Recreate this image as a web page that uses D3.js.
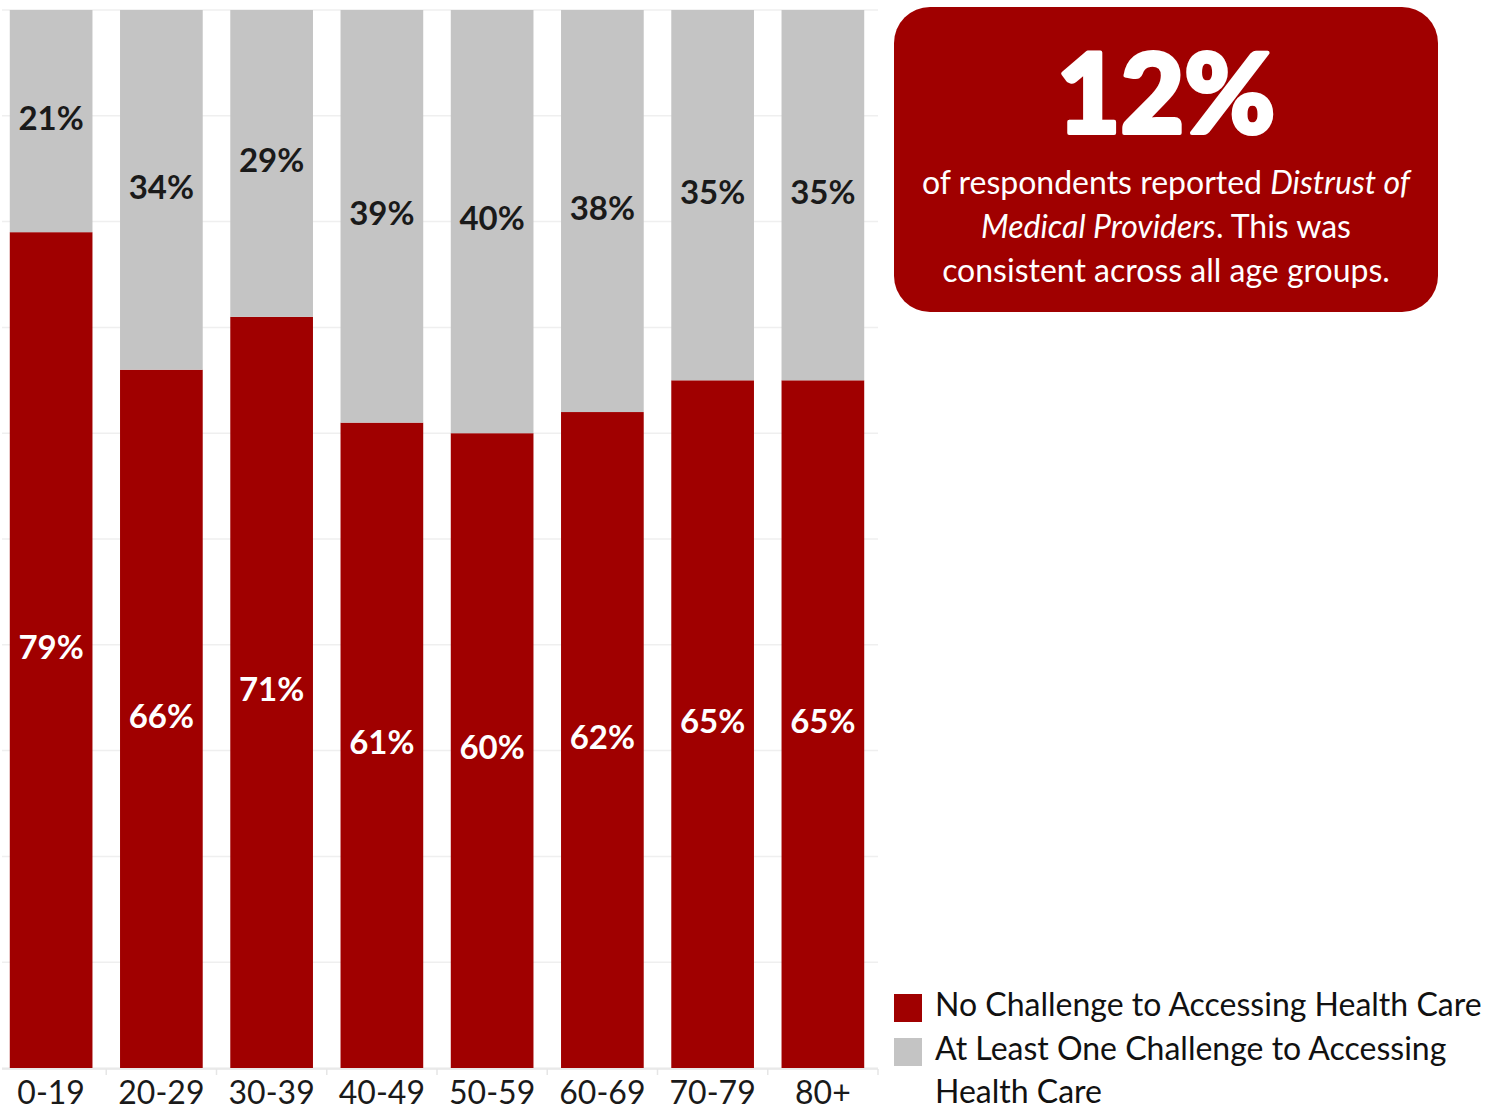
<!DOCTYPE html>
<html>
<head>
<meta charset="utf-8">
<script src="https://cdn.jsdelivr.net/npm/d3@7"></script>
<style>
  html, body { margin: 0; padding: 0; background: #fff; }
  svg { display: block; font-family: Lato, "Open Sans", sans-serif; }
</style>
</head>
<body>
<svg id="chart" width="1500" height="1111"></svg>
<script>
// Age groups and share of respondents (percent)
const ageGroups = ["0-19", "20-29", "30-39", "40-49", "50-59", "60-69", "70-79", "80+"];
const noChallenge = [79, 66, 71, 61, 60, 62, 65, 65];
const atLeastOne = [21, 34, 29, 39, 40, 38, 35, 35];
const gridTicks = [0, 10, 20, 30, 40, 50, 60, 70, 80, 90, 100];
const seriesNames = ["No Challenge to Accessing Health Care", "At Least One Challenge to Accessing Health Care"];

const RED = "#a00000";
const GRAY = "#c4c4c4";

const svg = d3.select("#chart");

const x = d3.scaleBand().domain(ageGroups).range([-4, 878]).paddingInner(0.25).paddingOuter(0.125);
const y = d3.scaleLinear().domain([0, 100]).range([1068, 10]);

// gridlines
svg.append("g")
  .selectAll("line")
  .data(gridTicks)
  .join("line")
  .attr("x1", 2).attr("x2", 878)
  .attr("y1", d => y(d)).attr("y2", d => y(d))
  .attr("stroke", "#efefef").attr("stroke-width", 1.5);

const rows = ageGroups.map((g, i) => ({ group: g, no: noChallenge[i], some: atLeastOne[i] }));
const stack = d3.stack().keys(["no", "some"])(rows);
const colors = { no: RED, some: GRAY };

const layers = svg.append("g")
  .selectAll("g")
  .data(stack)
  .join("g")
  .attr("fill", d => colors[d.key]);

layers.selectAll("rect")
  .data(d => d)
  .join("rect")
  .attr("x", d => x(d.data.group))
  .attr("width", x.bandwidth())
  .attr("y", d => y(d[1]))
  .attr("height", d => y(d[0]) - y(d[1]));

// value labels centered in each segment
layers.each(function(layer) {
  d3.select(this).selectAll("text")
    .data(layer)
    .join("text")
    .attr("x", d => x(d.data.group) + x.bandwidth() / 2)
    .attr("y", d => (y(d[0]) + y(d[1])) / 2 - 3)
    .attr("dy", "0.36em")
    .attr("text-anchor", "middle")
    .attr("font-size", 33)
    .attr("font-weight", 700)
    .attr("fill", layer.key === "no" ? "#ffffff" : "#1a1a1a")
    .text(d => (d[1] - d[0]) + "%");
});

// x axis
const xAxis = d3.axisBottom(x).tickSize(0).tickPadding(0);
const axisG = svg.append("g").attr("transform", "translate(0,1069)");
axisG.append("line")
  .attr("x1", 2).attr("x2", 878).attr("y1", 0).attr("y2", 0)
  .attr("stroke", "#e6e6e6").attr("stroke-width", 1.5);
// small separators at the right edge of each band
axisG.selectAll("line.sep")
  .data(ageGroups)
  .join("line")
  .attr("class", "sep")
  .attr("x1", d => x(d) + x.bandwidth() + x.step() * 0.125)
  .attr("x2", d => x(d) + x.bandwidth() + x.step() * 0.125)
  .attr("y1", 0).attr("y2", 6)
  .attr("stroke", "#e6e6e6").attr("stroke-width", 1.5);
axisG.append("g").call(xAxis)
  .call(g => g.select(".domain").remove())
  .selectAll("text")
  .attr("y", 35)
  .attr("dy", 0)
  .attr("font-family", "Lato, sans-serif")
  .attr("font-size", 32)
  .attr("fill", "#1a1a1a");

// callout box
const box = svg.append("g");
box.append("rect")
  .attr("x", 894).attr("y", 7).attr("width", 544).attr("height", 305)
  .attr("rx", 36).attr("ry", 36)
  .attr("fill", RED);
box.append("text")
  .attr("x", 1166).attr("y", 133)
  .attr("text-anchor", "middle")
  .attr("font-size", 110).attr("font-weight", 900)
  .attr("fill", "#ffffff")
  .attr("stroke", "#ffffff").attr("stroke-width", 4).attr("stroke-linejoin", "round")
  .text("12%");
const bodyLines = [
  [{ t: "of respondents reported " }, { t: "Distrust of", i: true }],
  [{ t: "Medical Providers", i: true }, { t: ". This was" }],
  [{ t: "consistent across all age groups." }]
];
bodyLines.forEach((line, k) => {
  const t = box.append("text")
    .attr("x", 1166).attr("y", 194 + k * 44)
    .attr("text-anchor", "middle")
    .attr("font-size", 32)
    .attr("fill", "#ffffff");
  line.forEach(s => t.append("tspan").attr("font-style", s.i ? "italic" : "normal").text(s.t));
});

// legend
const legend = svg.append("g").attr("transform", "translate(894,994)");
const legendItems = [
  { color: RED, lines: [seriesNames[0]] },
  { color: GRAY, lines: ["At Least One Challenge to Accessing", "Health Care"] }
];
legendItems.forEach((it, i) => {
  const g = legend.append("g").attr("transform", `translate(0,${i * 44})`);
  g.append("rect").attr("width", 28).attr("height", 28).attr("fill", it.color);
  const t = g.append("text").attr("x", 41).attr("y", 22)
    .attr("font-size", 32).attr("fill", "#111");
  it.lines.forEach((l, j) => t.append("tspan").attr("x", 41).attr("dy", j === 0 ? 0 : 43).text(l));
});
</script>
</body>
</html>
